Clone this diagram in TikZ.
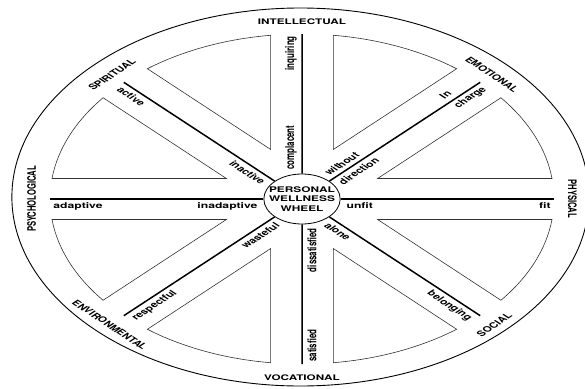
\documentclass[tikz,border=0pt]{standalone}
\usepackage{fontspec}
\setmainfont{TeX Gyre Heros}
\begin{document}
\begin{tikzpicture}[x=1bp,y=1bp,
  sector/.style={draw=black!80, line width=0.6pt, line join=miter},
  spoke/.style={line width=1.5pt, draw=black},
  rim/.style={draw=black, line width=0.9pt},
  ring/.style={font=\fontsize{7.7}{9}\selectfont\bfseries, inner sep=0pt},
  lab/.style={font=\fontsize{8}{9.5}\selectfont\bfseries, inner xsep=1pt, inner ysep=3.3pt},
  twolab/.style={font=\fontsize{8}{13}\selectfont\bfseries, inner xsep=1pt, inner ysep=0pt, align=left},
  hubstyle/.style={draw=black, line width=0.8pt, circle, minimum size=50bp, inner sep=-3pt,
    align=center, font=\fontsize{7.8}{9.2}\selectfont\bfseries}
]
\useasboundingbox (0,0) rectangle (585,388);
\fill[white] (0,0) rectangle (585,388);
\begin{scope}[shift={(302,189)}, xscale=1.527, transform shape]
  % outer rim
  \draw[rim] (-1,2) circle[radius=189];
  % sectors
  \foreach \a in {0,45,...,315} {
    \draw[sector] (\a+22.5:53.6) -- (\a+7.14:165)
      arc[start angle=\a+7.14, end angle=\a+37.86, radius=165] -- cycle;
  }
  % hub
  \node[hubstyle] (hub) at (0,0) {PERSONAL\\WELLNESS\\WHEEL};
  % spokes
  \foreach \a [count=\i] in {0,45,...,315} { \coordinate (e\i) at (\a:165); }
  \foreach \i in {1,...,8} { \draw[spoke] (hub) -- (e\i); }
  % spoke labels
  \node[lab, anchor=north east] (fit) at (0:164) {fit};
  \node[lab, anchor=north west] (unfit) at (0:28) {unfit};
  \node[lab, anchor=north west] (adaptive) at (180:164) {adaptive};
  \node[lab, anchor=north east] (inadaptive) at (180:28) {inadaptive};
  \node[lab, rotate=-45, anchor=north west] (active) at (135:164) {active};
  \node[lab, rotate=-45, anchor=north east] (inactive) at (135:28) {inactive};
  \node[lab, rotate=45, anchor=north west] (respectful) at (225:164) {respectful};
  \node[lab, rotate=45, anchor=north east] (wasteful) at (225:28) {wasteful};
  \node[lab, rotate=-45, anchor=north east] (belonging) at (315:164) {belonging};
  \node[lab, rotate=-45, anchor=north west] (alone) at (315:28) {alone};
  \node[lab, rotate=90, anchor=north west] (satisfied) at (270:164) {satisfied};
  \node[lab, rotate=90, anchor=north east] (dissatisfied) at (270:28) {dissatisfied};
  \node[lab, rotate=90, anchor=south east] (inquiring) at (90:164) {inquiring};
  \node[lab, rotate=90, anchor=south west] (complacent) at (90:28) {complacent};
  \node[twolab, rotate=45, anchor=east] (incharge) at (45:164) {In\\charge};
  \node[twolab, rotate=45, anchor=west] (withoutdir) at (45:28) {without\\direction};
  % ring labels
  \node[ring] (intellectual) at (90:177) {INTELLECTUAL};
  \node[ring] (vocational) at (270:179) {VOCATIONAL};
  \node[ring, rotate=90] (psychological) at (180:177) {PSYCHOLOGICAL};
  \node[ring, rotate=-90] (physical) at (0:177) {PHYSICAL};
  \node[ring, rotate=45] (spiritual) at (135:176) {SPIRITUAL};
  \node[ring, rotate=-45] (emotional) at (45:176) {EMOTIONAL};
  \node[ring, rotate=45] (social) at (-45:178) {SOCIAL};
  \node[ring, rotate=-45] (environmental) at (225:178) {ENVIRONMENTAL};
\end{scope}
\end{tikzpicture}
\end{document}
